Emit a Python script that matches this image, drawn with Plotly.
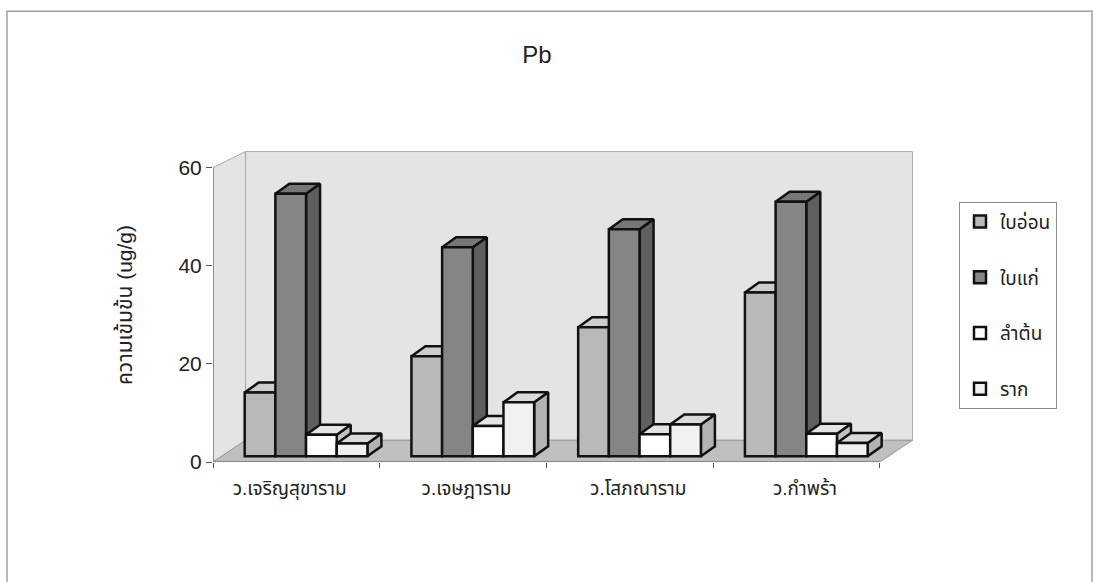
import plotly.graph_objects as go

# ---------------- data ----------------
categories = ["ว.เจริญสุขาราม", "ว.เจษฎาราม", "ว.โสภณาราม", "ว.กำพร้า"]
series_names = ["ใบอ่อน", "ใบแก่", "ลำต้น", "ราก"]
young_leaf = [13.0, 20.4, 26.3, 33.4]
old_leaf = [53.5, 42.6, 46.3, 51.9]
stem = [4.4, 6.2, 4.5, 4.6]
root = [2.6, 11.0, 6.5, 2.7]
y_ticks = [0, 20, 40, 60]
title_text = "Pb"
y_title = "ความเข้มข้น (ug/g)"

series_values = [young_leaf, old_leaf, stem, root]

# ---------------- styles ----------------
front_colors = ["#b9b9b9", "#858585", "#ffffff", "#f1f1f1"]
top_colors = ["#cdcdcd", "#777777", "#e4e4e4", "#dadada"]
side_colors = ["#9c9c9c", "#5f5f5f", "#c2c2c2", "#b3b3b3"]

FONT = "Liberation Sans, Arial, Noto Sans Thai, Noto Sans, DejaVu Sans, sans-serif"

# layout geometry (in axis units)
X_MIN, X_MAX = -0.5, 3.71
Y_MIN, Y_MAX = 0, 64
BW = 0.184          # bar width
LEFT0 = -0.31       # left edge of first bar relative to category centre
FY = 1.16           # bars sit slightly behind the front edge of the floor
DX, DY = 0.084, 2.04   # bar depth offset
WDX, WDY_B, WDY_T = 0.195, 4.43, 3.27  # wall depth offset
N = len(categories)
cat_pos = list(range(N))
label_shift = [-0.04, 0.02, 0.05, 0.05]  # perspective drift of category labels

fig = go.Figure()

# side / top faces (base axes, drawn below the front faces)
for k, vals in enumerate(series_values):
    sx, sy, tx, ty = [], [], [], []
    for i, v in enumerate(vals):
        xl = cat_pos[i] + LEFT0 + k * BW
        xr = xl + BW
        y0, y1 = FY, FY + v
        sx += [xr, xr + DX, xr + DX, xr, xr, None]
        sy += [y0, y0 + DY, y1 + DY, y1, y0, None]
        tx += [xl, xr, xr + DX, xl + DX, xl, None]
        ty += [y1, y1, y1 + DY, y1 + DY, y1, None]
    fig.add_trace(go.Scatter(x=sx, y=sy, mode="lines", fill="toself",
                             fillcolor=side_colors[k],
                             line=dict(color="#111111", width=2.5),
                             showlegend=False, hoverinfo="skip",
                             legendgroup=series_names[k],
                             xaxis="x", yaxis="y"))
    fig.add_trace(go.Scatter(x=tx, y=ty, mode="lines", fill="toself",
                             fillcolor=top_colors[k],
                             line=dict(color="#111111", width=2.5),
                             showlegend=False, hoverinfo="skip",
                             legendgroup=series_names[k],
                             xaxis="x", yaxis="y"))

# front faces (bars on overlay axes so they paint above the faces)
for k, vals in enumerate(series_values):
    fig.add_trace(go.Bar(
        x=[c + LEFT0 + (k + 0.5) * BW for c in cat_pos],
        y=vals,
        base=[FY] * N,
        width=[BW] * N,
        name=series_names[k],
        legendgroup=series_names[k],
        marker=dict(color=front_colors[k], line=dict(color="#111111", width=2.5)),
        xaxis="x2", yaxis="y2",
    ))

# walls and floor
def poly(pts):
    return "M " + " L ".join(f"{x},{y}" for x, y in pts) + " Z"

wall_col = "#e4e4e4"
shapes = [
    # back wall
    dict(type="path", xref="x", yref="y", layer="below",
         path=poly([(X_MIN + WDX, WDY_B), (3.5 + WDX, WDY_B),
                    (3.5 + WDX, 60 + WDY_T), (X_MIN + WDX, 60 + WDY_T)]),
         fillcolor=wall_col, line=dict(color="#a8a8a8", width=1)),
    # side wall
    dict(type="path", xref="x", yref="y", layer="below",
         path=poly([(X_MIN, 0), (X_MIN, 60), (X_MIN + WDX, 60 + WDY_T),
                    (X_MIN + WDX, WDY_B)]),
         fillcolor=wall_col, line=dict(color="#a8a8a8", width=1)),
    # floor
    dict(type="path", xref="x", yref="y", layer="below",
         path=poly([(X_MIN, 0), (3.5, 0), (3.5 + WDX, WDY_B), (X_MIN + WDX, WDY_B)]),
         fillcolor="#bfbfbf", line=dict(color="#9a9a9a", width=1)),
    # front floor edge (category axis line)
    dict(type="line", xref="x", yref="y", x0=X_MIN, x1=3.5, y0=0, y1=0,
         line=dict(color="#7a7a7a", width=1.5)),
    # value axis line
    dict(type="line", xref="x", yref="y", x0=X_MIN, x1=X_MIN, y0=0, y1=60,
         line=dict(color="#7a7a7a", width=1.5)),
    # outer chart border
    dict(type="rect", xref="paper", yref="paper",
         x0=(7 - 213) / 702, x1=(1092 - 213) / 702,
         y0=-0.6, y1=(461.7 - 12) / 313.3,
         line=dict(color="#a0a0a0", width=1.5), fillcolor="rgba(0,0,0,0)"),
]

fig.update_layout(
    width=1093, height=582,
    margin=dict(l=213, r=178, t=148.4, b=120.3, autoexpand=False),
    paper_bgcolor="white", plot_bgcolor="white",
    font=dict(family=FONT, color="#222222"),
    shapes=shapes,
    barmode="overlay",
    showlegend=True,
    title=dict(text=title_text, x=537 / 1093, xref="container", xanchor="center",
               y=1 - 55 / 582, yref="container", yanchor="middle",
               font=dict(size=24, color="#222222", family=FONT)),
    xaxis=dict(range=[X_MIN, X_MAX],
               tickvals=[c + s for c, s in zip(cat_pos, label_shift)],
               ticktext=categories,
               showgrid=False, zeroline=False, showline=False, ticks="",
               ticklabelstandoff=13, tickfont=dict(size=19, color="#222222"),
               fixedrange=True),
    yaxis=dict(range=[Y_MIN, Y_MAX], tickvals=y_ticks, showgrid=False,
               zeroline=False, showline=False, ticks="outside", ticklen=6,
               tickcolor="#555555", tickfont=dict(size=21, color="#222222"),
               title=dict(text=y_title, font=dict(size=21, color="#222222"),
                          standoff=40),
               fixedrange=True),
    xaxis2=dict(range=[X_MIN, X_MAX], overlaying="x", anchor="y2", side="bottom",
                tickvals=[-0.5, 0.5, 1.5, 2.5, 3.5], showticklabels=False,
                ticks="outside", ticklen=5, tickcolor="#555555",
                showgrid=False, zeroline=False, showline=False, fixedrange=True),
    yaxis2=dict(range=[Y_MIN, Y_MAX], overlaying="y", visible=False,
                fixedrange=True),
    legend=dict(x=(959 - 213) / 702, y=(461.7 - 202) / 313.3,
                xanchor="left", yanchor="top",
                bgcolor="white", bordercolor="#8a8a8a", borderwidth=1,
                font=dict(size=19, color="#222222"),
                tracegroupgap=28, traceorder="grouped",
                itemclick=False, itemdoubleclick=False),
)

fig.write_html("out.html")
